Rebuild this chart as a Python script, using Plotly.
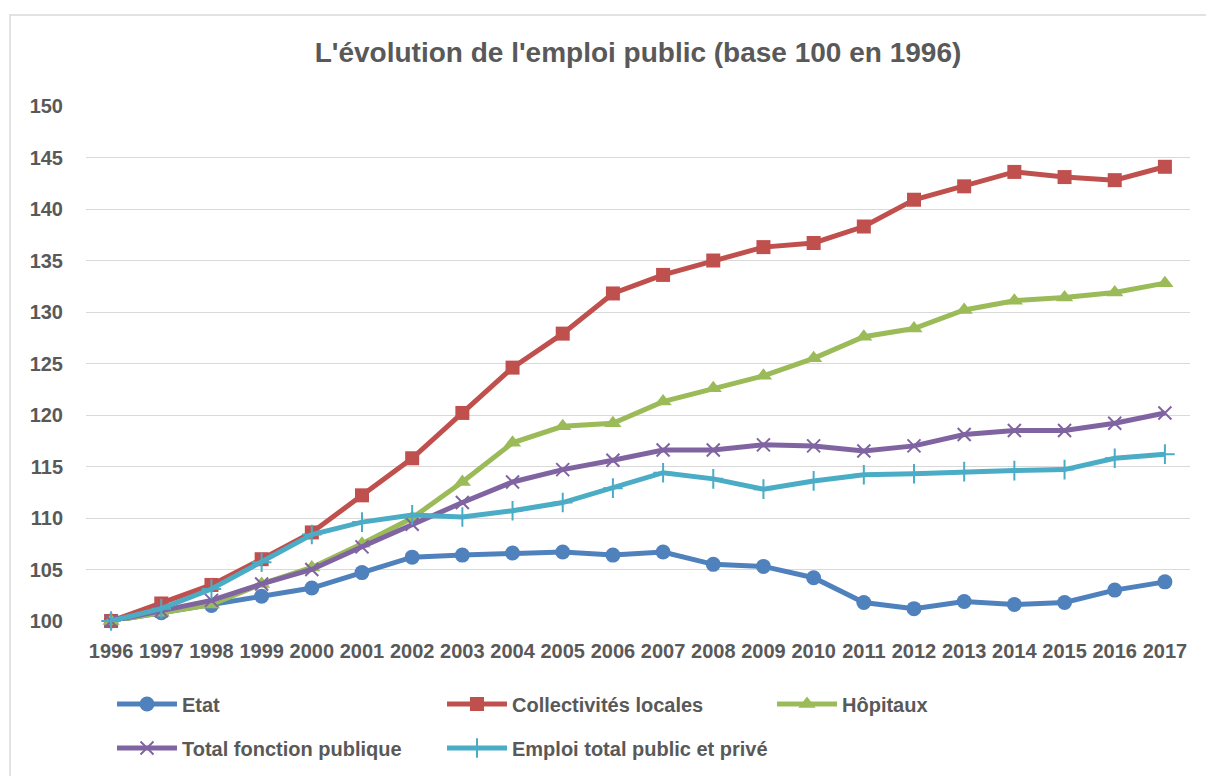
import plotly.graph_objects as go

years = [str(y) for y in range(1996, 2018)]
etat = [100, 100.8, 101.5, 102.4, 103.2, 104.7, 106.2, 106.4, 106.6, 106.7, 106.4,
        106.7, 105.5, 105.3, 104.2, 101.8, 101.2, 101.9, 101.6, 101.8, 103.0, 103.8]
collectivites = [100, 101.7, 103.5, 106.0, 108.6, 112.2, 115.8, 120.2, 124.6, 127.9, 131.8,
                 133.6, 135.0, 136.3, 136.7, 138.3, 140.9, 142.2, 143.6, 143.1, 142.8, 144.1]
hopitaux = [100, 100.8, 101.6, 103.6, 105.2, 107.5, 110.0, 113.5, 117.3, 118.9, 119.2,
            121.3, 122.6, 123.8, 125.5, 127.6, 128.4, 130.2, 131.1, 131.4, 131.9, 132.8]
total_fp = [100, 101.0, 102.0, 103.6, 105.0, 107.2, 109.4, 111.5, 113.5, 114.7, 115.6,
            116.6, 116.6, 117.1, 117.0, 116.5, 117.0, 118.1, 118.5, 118.5, 119.2, 120.2]
emploi_total = [100, 101.2, 103.1, 105.7, 108.4, 109.6, 110.3, 110.1, 110.7, 111.5, 112.9,
                114.4, 113.8, 112.8, 113.6, 114.2, 114.3, 114.5, 114.6, 114.7, 115.8, 116.2]

series = [
    ("Etat", etat, "#4F81BD", dict(symbol="circle", size=15), "legend"),
    ("Collectivités locales", collectivites, "#C0504D", dict(symbol="square", size=14), "legend"),
    ("Hôpitaux", hopitaux, "#9BBB59", dict(symbol="triangle-up", size=15), "legend"),
    ("Total fonction publique", total_fp, "#8064A2",
     dict(symbol="x-thin", size=13, line=dict(width=2, color="#8064A2")), "legend2"),
    ("Emploi total public et privé", emploi_total, "#4BACC6",
     dict(symbol="cross-thin", size=14, line=dict(width=2, color="#4BACC6")), "legend2"),
]

FONT = "Liberation Sans, Arial, sans-serif"
GREY = "#595959"

fig = go.Figure()
for name, vals, color, marker, leg in series:
    fig.add_trace(go.Scatter(
        x=years, y=vals, name=name, mode="lines+markers",
        line=dict(color=color, width=5),
        marker=dict(color=color, **marker),
        cliponaxis=False, legend=leg,
    ))

W, H = 1206, 776
L, R, T, B = 86, 16, 106, 155
pw, ph = W - L - R, H - T - B

def px_x(p):
    return (p - L) / pw

def px_y(p):
    return (H - B - p) / ph

legend_common = dict(
    orientation="h", xanchor="left", yanchor="middle",
    font=dict(family=FONT, size=20, color=GREY, weight="bold"),
    entrywidth=255, entrywidthmode="pixels", itemwidth=60,
    bgcolor="rgba(0,0,0,0)", traceorder="normal",
)

fig.update_layout(
    width=W, height=H,
    margin=dict(l=L, r=R, t=T, b=B, autoexpand=False),
    paper_bgcolor="white", plot_bgcolor="white",
    title=dict(text="<b>L'évolution de l'emploi public (base 100 en 1996)</b>",
               x=0.5, xref="paper", y=1 - 52 / H, yanchor="middle",
               font=dict(family=FONT, size=28, color=GREY)),
    xaxis=dict(type="category", range=[-0.5, len(years) - 0.5], showgrid=False,
               zeroline=False, showline=False, automargin=False, tickangle=0,
               tickfont=dict(family=FONT, size=20, color=GREY, weight="bold"),
               ticks="", ticklabelstandoff=16),
    yaxis=dict(range=[100, 150], dtick=5, tick0=100, showgrid=True, gridcolor="#d9d9d9",
               gridwidth=1.3, zeroline=False, showline=False, automargin=False,
               tickfont=dict(family=FONT, size=20, color=GREY, weight="bold"),
               ticks="", ticklabelstandoff=22),
    legend=dict(x=px_x(112), y=px_y(704), **legend_common),
    legend2=dict(x=px_x(112), y=px_y(748), **legend_common),
    showlegend=True,
    shapes=[dict(type="rect", xref="paper", yref="paper",
                 x0=px_x(10), x1=px_x(1215), y0=px_y(785), y1=px_y(15),
                 line=dict(color="#d9d9d9", width=1.5), fillcolor="rgba(0,0,0,0)",
                 layer="below")],
)

fig.write_html("out.html", config={"displayModeBar": False},
               post_script="document.body.style.margin='0';")
